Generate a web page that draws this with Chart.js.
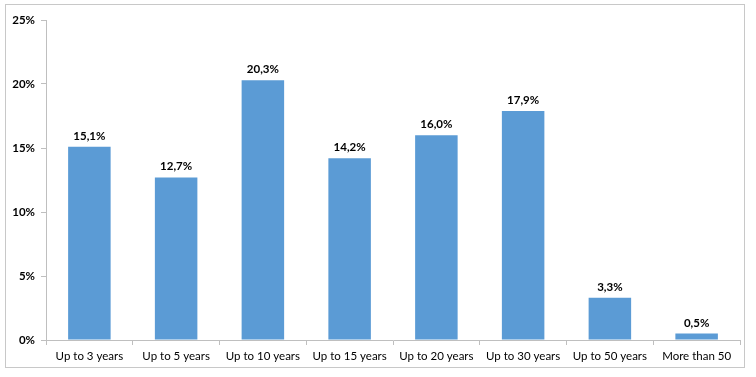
<!DOCTYPE html>
<html><head><meta charset="utf-8">
<script src="https://cdn.jsdelivr.net/npm/chart.js@4/dist/chart.umd.min.js"></script>
<style>
html,body{margin:0;padding:0;background:#fff;}
#wrap{position:relative;width:756px;height:377px;}
#frame{position:absolute;left:5px;top:4px;width:740px;height:364px;border:1px solid #c8c8c8;box-sizing:border-box;}
canvas{position:absolute;left:0;top:0;}
</style></head>
<body><div id="wrap"><div id="frame"></div><canvas id="c" width="756" height="377"></canvas></div>
<script>
const categories = ["Up to 3 years","Up to 5 years","Up to 10 years","Up to 15 years","Up to 20 years","Up to 30 years","Up to 50 years","More than 50"];
const values = [15.1, 12.7, 20.3, 14.2, 16.0, 17.9, 3.3, 0.5];
const yTicks = [0, 5, 10, 15, 20, 25];

const FONT = "Lato, 'Liberation Sans', sans-serif";
const fmt = v => v.toFixed(1).replace('.', ',') + '%';

const labelPlugin = {
  id: 'barLabels',
  afterDatasetsDraw(chart) {
    const ctx = chart.ctx;
    const meta = chart.getDatasetMeta(0);
    ctx.save();
    ctx.font = "bold 11.5px " + FONT;
    ctx.fillStyle = '#000';
    ctx.textAlign = 'center';
    ctx.textBaseline = 'bottom';
    meta.data.forEach((bar, i) => {
      ctx.fillText(fmt(values[i]), bar.x, bar.y - 5);
    });
    ctx.restore();
  }
};

new Chart(document.getElementById('c'), {
  type: 'bar',
  data: {
    labels: categories,
    datasets: [{
      data: values,
      backgroundColor: '#5b9bd5',
      borderWidth: 0,
      categoryPercentage: 1,
      barPercentage: 0.49
    }]
  },
  options: {
    responsive: false,
    animation: false,
    events: [],
    layout: { padding: { left: 5, right: 16, top: 20, bottom: 0 } },
    plugins: { legend: { display: false }, tooltip: { enabled: false } },
    scales: {
      x: {
        offset: true,
        grid: { display: true, offset: true, drawOnChartArea: false, tickLength: 5, color: '#bfbfbf' },
        border: { color: '#bfbfbf' },
        ticks: { color: '#000', font: { family: FONT, size: 11.5 }, padding: 4, maxRotation: 0, autoSkip: false },
        afterFit: s => { s.height = 37; }
      },
      y: {
        min: 0, max: 25,
        afterBuildTicks: s => { s.ticks = yTicks.map(v => ({ value: v })); },
        grid: { display: true, drawOnChartArea: false, tickLength: 5, color: '#bfbfbf' },
        border: { color: '#bfbfbf' },
        ticks: { color: '#000', font: { family: FONT, size: 11.5, weight: 'bold' }, padding: 6, callback: v => v + '%' },
        afterFit: s => { s.width = 41; }
      }
    }
  },
  plugins: [labelPlugin]
});
</script></body></html>
